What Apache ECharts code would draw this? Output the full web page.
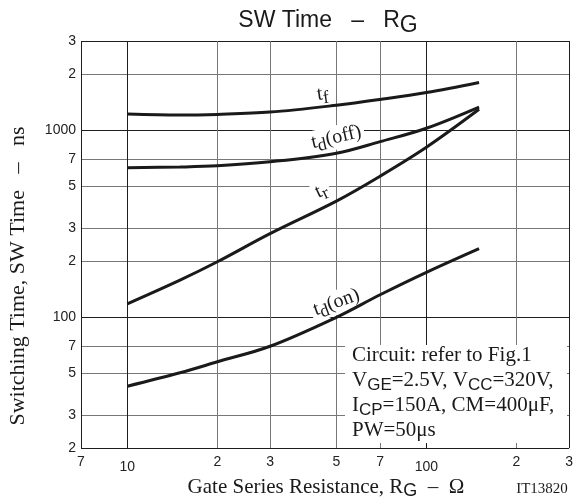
<!DOCTYPE html>
<html><head><meta charset="utf-8">
<script src="https://cdn.jsdelivr.net/npm/echarts@6/dist/echarts.min.js"></script>
<style>html,body{margin:0;padding:0;background:#fff}#c{width:576px;height:501px}</style>
</head><body><div id="c"></div>
<script>
// ---- data ----
const rg    = [10, 15, 20, 30, 50, 70, 100, 150];           // Gate series resistance, ohm
const tf    = [1220, 1205, 1215, 1250, 1360, 1460, 1590, 1800];
const tdOff = [631, 636, 645, 678, 754, 869, 1025, 1330];
const tr    = [118, 158, 198, 280, 418, 568, 811, 1294];
const tdOn  = [42.8, 50.5, 57.8, 70, 100, 132, 174, 233];
const xTicks = [7, 10, 20, 30, 50, 70, 100, 200, 300];
const xTickLabels = ['7', '10', '2', '3', '5', '7', '100', '2', '3'];
const yTicks = [20, 30, 50, 70, 100, 200, 300, 500, 700, 1000, 2000, 3000];
const yTickLabels = ['2', '3', '5', '7', '100', '2', '3', '5', '7', '1000', '2', '3'];
// label anchors (data coords) for curve names
const curveLabels = [
  { text: '{m|t}{s|f}', at: [45, 1560], rot: -8, bg: false },
  { text: '{m|t}{s|d}{m|(off)}', at: [50, 915], rot: -13, bg: true },
  { text: '{m|t}{s|r}', at: [44.5, 474], rot: -25, bg: true },
  { text: '{m|t}{s|d}{m|(on)}', at: [50, 120], rot: -20, bg: true }
];

const DARK = '#1e1e1e', GRAY = '#777777', INK = '#1a1a1a';
const isMajor = (v, arr) => v === arr[0] || v === arr[arr.length - 1] || Math.abs(Math.log10(v) % 1) < 1e-9;
const xColors = xTicks.map(v => isMajor(v, xTicks) ? DARK : GRAY);
const yColors = yTicks.map(v => isMajor(v, yTicks) ? DARK : GRAY);
const SERIF = '"Liberation Serif", "DejaVu Serif", serif';
const SANS = '"Liberation Sans", Arial, sans-serif';

function pairs(ys) { return rg.map((x, i) => [x, ys[i]]); }
function lineSeries(name, ys) {
  return { name, type: 'line', data: pairs(ys), smooth: 0.35, symbol: 'none',
    lineStyle: { color: INK, width: 3 }, z: 5, silent: true };
}

const chart = echarts.init(document.getElementById('c'), null, { renderer: 'canvas' });
chart.setOption({
  animation: false,
  backgroundColor: '#fff',
  grid: { left: 81, right: 4, top: 41, bottom: 53, containLabel: false },
  xAxis: {
    type: 'log', logBase: 10, min: 7, max: 300,
    axisLine: { show: false },
    axisTick: { show: false, customValues: xTicks },
    axisLabel: {
      customValues: xTicks, margin: 7, fontFamily: SANS, fontSize: 14, color: '#222',
      formatter: v => { const i = xTicks.findIndex(t => Math.abs(t - v) < 1e-6); const s = xTickLabels[i];
        return (v === 10 || v === 100) ? '{d|' + s + '}' : s; },
      rich: { d: { fontFamily: SANS, fontSize: 14, color: '#222', padding: [5, 0, 0, 0] } }
    },
    splitLine: { show: true, lineStyle: { color: xColors, width: 1 } }
  },
  yAxis: {
    type: 'log', logBase: 10, min: 20, max: 3000,
    axisLine: { show: false },
    axisTick: { show: false, customValues: yTicks },
    axisLabel: {
      customValues: yTicks, margin: 5, fontFamily: SANS, fontSize: 14, color: '#222',
      formatter: v => { const i = yTicks.findIndex(t => Math.abs(t - v) < 1e-6); return yTickLabels[i]; }
    },
    splitLine: { show: true, lineStyle: { color: yColors, width: 1 } }
  },
  series: [lineSeries('tf', tf), lineSeries('td(off)', tdOff), lineSeries('tr', tr), lineSeries('td(on)', tdOn)]
});

const labelRich = {
  m: { fontFamily: SERIF, fontSize: 20, fill: INK, lineHeight: 24 },
  s: { fontFamily: SERIF, fontSize: 18, fill: INK, lineHeight: 24, padding: [9, 0, 0, 0] }
};
const graphics = [];
curveLabels.forEach(l => {
  const p = chart.convertToPixel({ gridIndex: 0 }, l.at);
  graphics.push({ type: 'text', x: p[0], y: p[1], rotation: -l.rot * Math.PI / 180, z: 4,
    style: { text: l.text, rich: labelRich, align: 'center', verticalAlign: 'middle',
      backgroundColor: l.bg ? '#fff' : null, padding: l.bg ? [0, 3, 0, 3] : 0 } });
});
// annotation box
graphics.push({ type: 'rect', shape: { x: 345, y: 345, width: 222, height: 98 }, style: { fill: '#fff' }, z: 3 });
const annRich = {
  a: { fontFamily: SERIF, fontSize: 21, fill: INK, lineHeight: 25 },
  s: { fontFamily: SANS, fontSize: 17, fill: INK, lineHeight: 25, padding: [9, 0, 0, 0] }
};
graphics.push({ type: 'text', x: 352, y: 343, z: 4, style: {
  text: '{a|Circuit: refer to Fig.1}\n{a|V}{s|GE}{a|=2.5V, V}{s|CC}{a|=320V,}\n{a|I}{s|CP}{a|=150A, CM=400μF,}\n{a|PW=50μs}',
  rich: annRich, align: 'left', verticalAlign: 'top' } });
// title
graphics.push({ type: 'text', x: 328, y: 21, z: 4, style: {
  text: '{a|SW Time   –   R}{s|G}', align: 'center', verticalAlign: 'middle',
  rich: { a: { fontFamily: SANS, fontSize: 23, fill: INK, lineHeight: 26 },
          s: { fontFamily: SANS, fontSize: 23, fill: INK, lineHeight: 26, padding: [10, 0, 0, 0] } } } });
// x axis name
graphics.push({ type: 'text', x: 326, y: 487, z: 4, style: {
  text: '{a|Gate Series Resistance, R}{s|G}{a|  –  Ω}', align: 'center', verticalAlign: 'middle',
  rich: { a: { fontFamily: SERIF, fontSize: 21, fill: INK, lineHeight: 24 },
          s: { fontFamily: SANS, fontSize: 18, fill: INK, lineHeight: 24, padding: [9, 0, 0, 0] } } } });
// y axis name
graphics.push({ type: 'text', x: 18, y: 276, rotation: Math.PI / 2, z: 4, style: {
  text: 'Switching Time, SW Time   –   ns', align: 'center', verticalAlign: 'middle',
  font: '22px ' + SERIF, fill: INK } });
// code
graphics.push({ type: 'text', x: 542, y: 489, z: 4, style: {
  text: 'IT13820', align: 'center', verticalAlign: 'middle', font: '15px ' + SERIF, fill: INK } });
chart.setOption({ graphic: graphics });
</script></body></html>
